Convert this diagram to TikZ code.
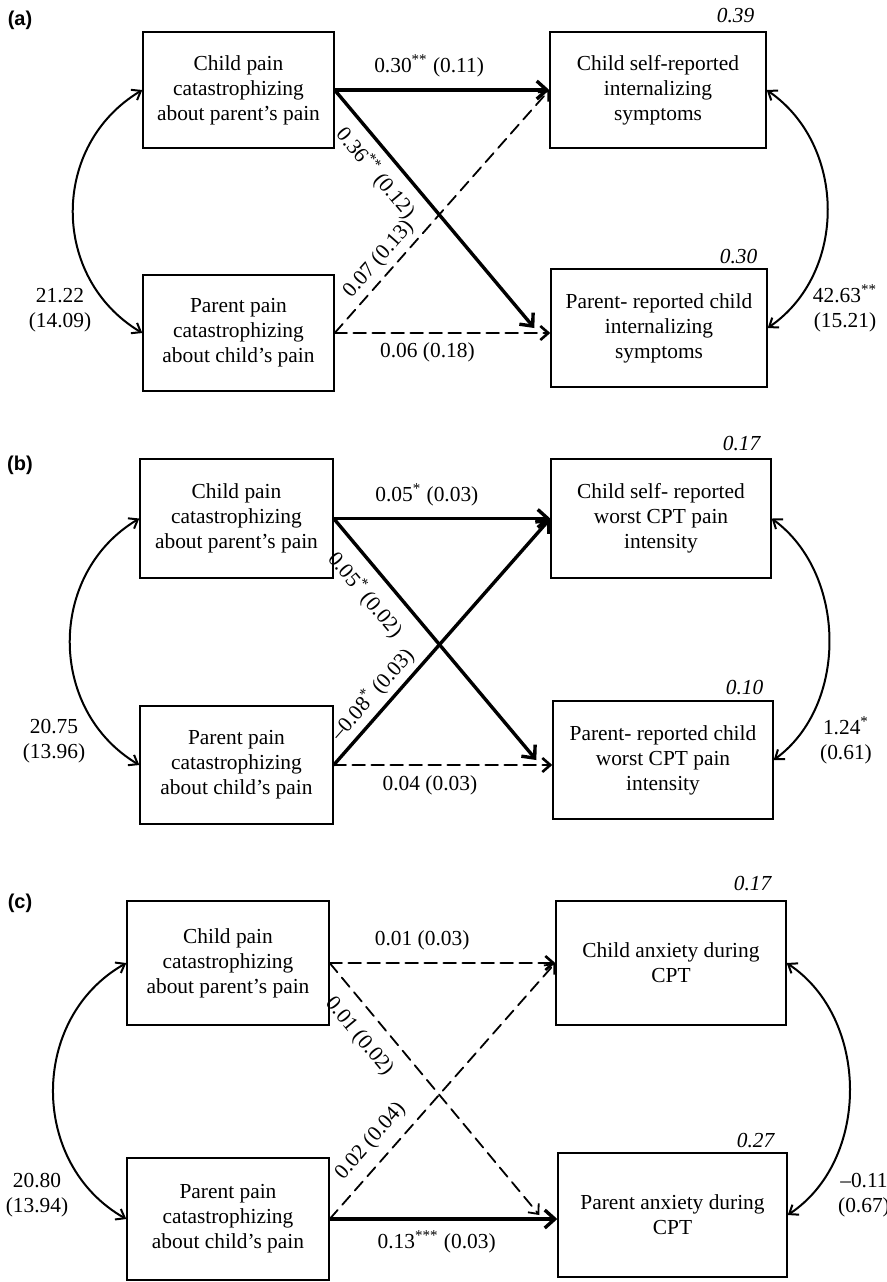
\documentclass[tikz,border=0pt]{standalone}
\usepackage{fontspec}
\setmainfont{Liberation Serif}
\newfontfamily\panelfont{Liberation Sans}
\usetikzlibrary{arrows.meta, positioning}

\begin{document}
\begin{tikzpicture}
	[x=0.5pt, y=-0.5pt, line cap=round,
	%Styles
	variable box/.style={draw, line width=0.7pt, align=center, inner sep=2pt, font=\fontsize{10.7}{12.5}\selectfont},
	strong path/.style={line width=1.7pt, -{Straight Barb[length=5pt, width=9pt]}},
	weak path/.style={line width=0.9pt, dash pattern=on 6pt off 3.5pt, -{Straight Barb[length=4pt, width=7pt]}},
	covariance/.style={line width=1pt, {Straight Barb[length=4pt, width=6pt]}-{Straight Barb[length=4pt, width=6pt]}},
	path label/.style={font=\fontsize{10.7}{12.5}\selectfont, inner sep=2pt},
	cov label/.style={font=\fontsize{10.7}{12.5}\selectfont, align=center, inner sep=0pt},
	rsq/.style={font=\fontsize{10.7}{12.5}\selectfont\itshape, anchor=south east, inner sep=1pt},
	panel/.style={font=\panelfont\bfseries\fontsize{10}{12}\selectfont}
	]
	
	\useasboundingbox (0,0) rectangle (887,1282);
	
	%Panel (a)
	\node[panel] (panelA) at (20,20) {(a)};
	\node[variable box, minimum width=95.5pt, minimum height=58pt] (childA) at (238.5,90) {Child pain\\catastrophizing\\about parent’s pain};
	\node[variable box, minimum width=108pt, minimum height=58pt] (selfA) at (658,90) {Child self-reported\\internalizing\\symptoms};
	\node[variable box, minimum width=95.5pt, minimum height=58pt] (parentA) at (238.5,333) {Parent pain\\catastrophizing\\about child’s pain};
	\node[variable box, minimum width=108pt, minimum height=59pt] (reportA) at (659,328) {Parent- reported child\\internalizing\\symptoms};
	\node[rsq] (rsqselfA) at ([xshift=-5pt, yshift=3pt]selfA.north east) {0.39};
	\node[rsq] (rsqreportA) at ([xshift=-4pt, yshift=1pt]reportA.north east) {0.30};
	
	\draw[strong path] (childA.east) -- node[path label, above=3.5pt, pos=0.44] {0.30\textsuperscript{**} (0.11)} (selfA.west);
	\draw[strong path] (childA.east) -- node[path label, sloped, below=2.5pt, pos=0.29] {0.36\textsuperscript{**} (0.12)} ([xshift=-8pt]reportA.west);
	\draw[weak path] (parentA.east) -- node[path label, sloped, above=0.5pt, pos=0.26] {0.07 (0.13)} (selfA.west);
	\draw[weak path, line width=1.3pt] (parentA.east) -- node[path label, below=2pt, pos=0.43] {0.06 (0.18)} (parentA.east -| reportA.west);
	
	\draw[covariance] (childA.west) .. controls +(-92,55) and +(-92,-55) .. (parentA.west);
	\draw[covariance] (selfA.east) .. controls +(80,55) and +(80,-55) .. (reportA.east);
	\node[cov label] (covchildA) at (60,310) {21.22\\(14.09)};
	\node[cov label] (covselfA) at (845,308) {42.63\textsuperscript{**}\\(15.21)};
	
	%Panel (b)
	\node[panel] (panelB) at (20,465) {(b)};
	\node[variable box, minimum width=96.5pt, minimum height=59.5pt] (childB) at (236.5,518.5) {Child pain\\catastrophizing\\about parent’s pain};
	\node[variable box, minimum width=110pt, minimum height=59.5pt] (selfB) at (661,518.5) {Child self- reported\\worst CPT pain\\intensity};
	\node[variable box, minimum width=96.5pt, minimum height=59pt] (parentB) at (236.5,765) {Parent pain\\catastrophizing\\about child’s pain};
	\node[variable box, minimum width=110pt, minimum height=59pt] (reportB) at (663,760) {Parent- reported child\\worst CPT pain\\intensity};
	\node[rsq] (rsqselfB) at ([xshift=-4.5pt, yshift=2.5pt]selfB.north east) {0.17};
	\node[rsq] (rsqreportB) at ([xshift=-4pt, yshift=1.5pt]reportB.north east) {0.10};
	
	\draw[strong path] (childB.east) -- node[path label, above=3.5pt, pos=0.43] {0.05\textsuperscript{*} (0.03)} (selfB.west);
	\draw[strong path] (childB.east) -- node[path label, sloped, below=4pt, pos=0.25] {0.05\textsuperscript{*} (0.02)} ([xshift=-8pt]reportB.west);
	\draw[strong path] (parentB.east) -- node[path label, sloped, above=0.5pt, pos=0.24] {–0.08\textsuperscript{*} (0.03)} (selfB.west);
	\draw[weak path, line width=1.3pt] (parentB.east) -- node[path label, below=2.5pt, pos=0.44] {0.04 (0.03)} (parentB.east -| reportB.west);
	
	\draw[covariance] (childB.west) .. controls +(-92,55) and +(-92,-55) .. (parentB.west);
	\draw[covariance] (selfB.east) .. controls +(75,55) and +(75,-55) .. (reportB.east);
	\node[cov label] (covchildB) at (54,741) {20.75\\(13.96)};
	\node[cov label] (covselfB) at (846,740) {1.24\textsuperscript{*}\\(0.61)};
	
	%Panel (c)
	\node[panel] (panelC) at (20,903) {(c)};
	\node[variable box, minimum width=101pt, minimum height=62pt] (childC) at (228,963) {Child pain\\catastrophizing\\about parent’s pain};
	\node[variable box, minimum width=115pt, minimum height=62pt] (selfC) at (671,963) {Child anxiety during\\CPT};
	\node[variable box, minimum width=101pt, minimum height=61pt] (parentC) at (228,1219) {Parent pain\\catastrophizing\\about child’s pain};
	\node[variable box, minimum width=114.5pt, minimum height=62pt] (reportC) at (672.5,1215) {Parent anxiety during\\CPT};
	\node[rsq] (rsqselfC) at ([xshift=-6.5pt, yshift=3.5pt]selfC.north east) {0.17};
	\node[rsq] (rsqreportC) at ([xshift=-5.5pt, yshift=1pt]reportC.north east) {0.27};
	
	\draw[weak path, line width=1.3pt] (childC.east) -- node[path label, above=4pt, pos=0.41] {0.01 (0.03)} (selfC.west);
	\draw[weak path] (childC.east) -- node[path label, sloped, below=5pt, pos=0.23] {0.01 (0.02)} ([xshift=-9pt]reportC.west);
	\draw[weak path] (parentC.east) -- node[path label, sloped, above=3pt, pos=0.25] {0.02 (0.04)} (selfC.west);
	\draw[strong path] (parentC.east) -- node[path label, below=3pt, pos=0.47] {0.13\textsuperscript{***} (0.03)} (parentC.east -| reportC.west);
	
	\draw[covariance] (childC.west) .. controls +(-97,55) and +(-97,-55) .. (parentC.west);
	\draw[covariance] (selfC.east) .. controls +(83,55) and +(83,-55) .. (reportC.east);
	\node[cov label] (covchildC) at (37,1195) {20.80\\(13.94)};
	\node[cov label] (covselfC) at (864,1195) {–0.11\\(0.67)};
\end{tikzpicture}
\end{document}
